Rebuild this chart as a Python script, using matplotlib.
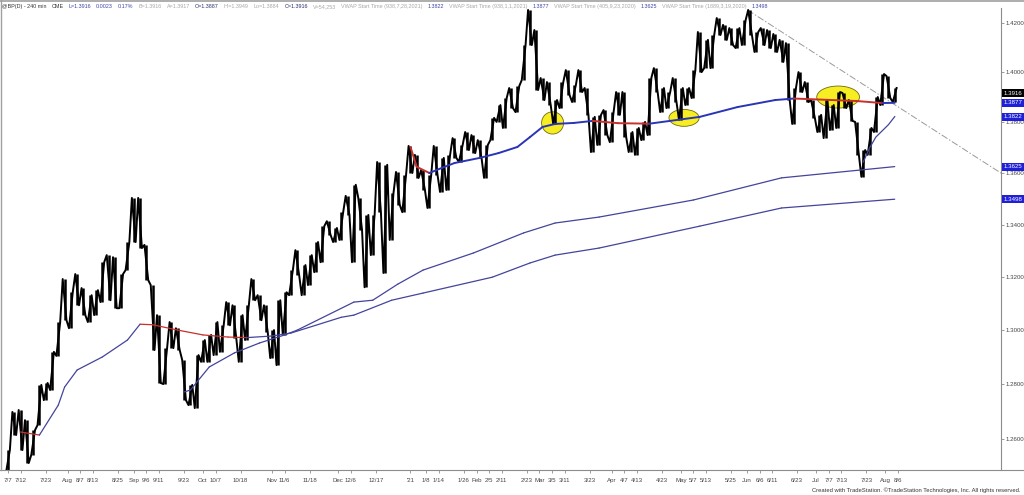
import numpy as np
import matplotlib.pyplot as plt
from matplotlib.patches import Ellipse
from matplotlib.lines import Line2D
from matplotlib.ticker import FixedLocator, FixedFormatter, NullLocator

plt.rcParams['font.family'] = ['Liberation Sans', 'DejaVu Sans']

# bars: one every two business days starting 7/7/2020
start_day = '2020-07-07'
bar_step = 2

bar_high = [
    1.2560, 1.2698, 1.2705, 1.2668, 1.2632, 1.2797, 1.2804, 1.2919, 1.3030, 1.3192,
    1.3142, 1.3211, 1.3158, 1.3131, 1.3150, 1.3256, 1.3283, 1.3275, 1.3211, 1.3333,
    1.3503, 1.3503, 1.3322, 1.3169, 1.3056, 1.2933, 1.3030, 1.3007, 1.2889, 1.2797,
    1.2907, 1.2963, 1.2982, 1.3030, 1.3018, 1.3105, 1.3093, 1.3056, 1.3093, 1.3192,
    1.3131, 1.3093, 1.3000, 1.3112, 1.3142, 1.3226, 1.3302, 1.3245, 1.3283, 1.3333,
    1.3394, 1.3413, 1.3387, 1.3448, 1.3511, 1.3554, 1.3503, 1.3437, 1.3437, 1.3643,
    1.3632, 1.3522, 1.3604, 1.3593, 1.3706, 1.3671, 1.3612, 1.3593, 1.3706, 1.3659,
    1.3671, 1.3737, 1.3710, 1.3761, 1.3749, 1.3729, 1.3710, 1.3817, 1.3868, 1.3896,
    1.3936, 1.3944, 1.4109, 1.4252, 1.4170, 1.3976, 1.3960, 1.3888, 1.3960, 1.4008,
    1.3948, 1.4008, 1.3936, 1.3821, 1.3829, 1.3848, 1.3840, 1.3920, 1.3920, 1.3761,
    1.3777, 1.3801, 1.3976, 1.4016, 1.3936, 1.3920, 1.3976, 1.3936, 1.3936, 1.4008,
    1.4162, 1.4130, 1.4150, 1.4219, 1.4191, 1.4178, 1.4178, 1.4211, 1.4252, 1.4162,
    1.4178, 1.4170, 1.4154, 1.4130, 1.4117, 1.3936, 1.4000, 1.3960, 1.3888, 1.3829,
    1.3888, 1.3868, 1.3920, 1.3916, 1.3888, 1.3801, 1.3690, 1.3777, 1.3900, 1.3992,
    1.3984, 1.3936,
]
bar_low = [
    1.2481, 1.2614, 1.2560, 1.2513, 1.2542, 1.2650, 1.2741, 1.2778, 1.2904, 1.3037,
    1.3007, 1.3093, 1.3056, 1.3030, 1.3056, 1.3105, 1.3112, 1.3082, 1.3082, 1.3226,
    1.3333, 1.3310, 1.3188, 1.2926, 1.2804, 1.2800, 1.2933, 1.2926, 1.2741, 1.2723,
    1.2712, 1.2882, 1.2882, 1.2907, 1.2919, 1.3018, 1.2970, 1.2882, 1.2963, 1.3112,
    1.3037, 1.2993, 1.2896, 1.2870, 1.2982, 1.3131, 1.3207, 1.3131, 1.3169, 1.3218,
    1.3256, 1.3360, 1.3333, 1.3341, 1.3437, 1.3256, 1.3379, 1.3161, 1.3283, 1.3448,
    1.3215, 1.3341, 1.3476, 1.3448, 1.3600, 1.3581, 1.3534, 1.3464, 1.3593, 1.3526,
    1.3534, 1.3659, 1.3643, 1.3690, 1.3678, 1.3659, 1.3581, 1.3729, 1.3801, 1.3777,
    1.3856, 1.3840, 1.3968, 1.4109, 1.3928, 1.3888, 1.3868, 1.3793, 1.3856, 1.3908,
    1.3880, 1.3920, 1.3829, 1.3682, 1.3710, 1.3749, 1.3721, 1.3829, 1.3741, 1.3682,
    1.3671, 1.3729, 1.3749, 1.3920, 1.3840, 1.3856, 1.3880, 1.3809, 1.3868, 1.3896,
    1.4000, 1.4016, 1.4016, 1.4150, 1.4130, 1.4109, 1.4097, 1.4109, 1.4150, 1.4081,
    1.4109, 1.4097, 1.4081, 1.4041, 1.3888, 1.3793, 1.3920, 1.3880, 1.3817, 1.3761,
    1.3737, 1.3769, 1.3777, 1.3856, 1.3805, 1.3671, 1.3585, 1.3671, 1.3761, 1.3868,
    1.3896, 1.3880,
]

# anchored VWAP lines (bar index, value)
vwap_0319_bar = [2, 5, 8, 9, 11, 15, 19, 21, 23, 27, 31, 35, 38, 42, 45, 53, 55,
                 61, 66, 77, 83, 87, 94, 110, 123, 141]
vwap_0319 = [1.2625, 1.2614, 1.2723, 1.2789, 1.2852, 1.2900, 1.2963, 1.3022, 1.3020,
             1.3000, 1.2982, 1.2974, 1.2972, 1.2978, 1.2989, 1.3048, 1.3056, 1.3112,
             1.3139, 1.3199, 1.3253, 1.3283, 1.3310, 1.3394, 1.3464, 1.3498]

vwap_0923_bar = [28, 29, 32, 36, 40, 44, 46, 55, 58, 62, 66, 74, 82, 87, 94, 109,
                 123, 141]
vwap_0923 = [1.2771, 1.2778, 1.2863, 1.2915, 1.2952, 1.2982, 1.3000, 1.3105, 1.3112,
             1.3173, 1.3226, 1.3291, 1.3368, 1.3406, 1.3429, 1.3495, 1.3581, 1.3625]

vwap_0101_bar = [64, 65, 67, 69, 71, 75, 78, 81, 83, 85, 87, 90, 93, 97, 102, 110,
                 116, 122, 125, 135, 139, 141]
vwap_0101 = [1.3702, 1.3624, 1.3600, 1.3620, 1.3639, 1.3659, 1.3678, 1.3702, 1.3741,
             1.3781, 1.3793, 1.3797, 1.3805, 1.3796, 1.3794, 1.3821, 1.3860, 1.3888,
             1.3894, 1.3884, 1.3876, 1.3877]

vwap_0728_bar = [136, 137, 138, 140, 141]
vwap_0728 = [1.3643, 1.3698, 1.3741, 1.3790, 1.3822]

trend_bar = [117.6, 158.0]
trend_price = [1.4252, 1.3598]

# highlighted zones (bar, price)
zone_bar = [86.6, 107.5, 132.0]
zone_price = [1.3797, 1.3817, 1.3900]

y_ticks = [1.26, 1.28, 1.30, 1.32, 1.34, 1.36, 1.38, 1.40, 1.42]
last_values = [1.3916, 1.3877, 1.3822, 1.3625, 1.3498]

tick_labels = ['7/7', '7/12', '7/23', 'Aug', '8/7', '8/13', '8/25', 'Sep', '9/6', '9/11',
               '9/23', 'Oct', '10/7', '10/18', 'Nov', '11/6', '11/18', 'Dec', '12/6',
               '12/17', "'21", '1/8', '1/14', '1/26', 'Feb', '2/5', '2/11', '2/23', 'Mar',
               '3/5', '3/11', '3/23', 'Apr', '4/7', '4/13', '4/23', 'May', '5/7', '5/13',
               '5/25', 'Jun', '6/6', '6/11', '6/23', 'Jul', '7/7', '7/13', '7/23', 'Aug',
               '8/6']
tick_dates = ['2020-07-07', '2020-07-12', '2020-07-23', '2020-08-03', '2020-08-07',
              '2020-08-13', '2020-08-25', '2020-09-01', '2020-09-06', '2020-09-11',
              '2020-09-23', '2020-10-01', '2020-10-07', '2020-10-18', '2020-11-02',
              '2020-11-06', '2020-11-18', '2020-12-01', '2020-12-06', '2020-12-17',
              '2021-01-01', '2021-01-08', '2021-01-14', '2021-01-26', '2021-02-01',
              '2021-02-05', '2021-02-11', '2021-02-23', '2021-03-01', '2021-03-05',
              '2021-03-11', '2021-03-23', '2021-04-01', '2021-04-07', '2021-04-13',
              '2021-04-23', '2021-05-03', '2021-05-07', '2021-05-13', '2021-05-25',
              '2021-06-01', '2021-06-06', '2021-06-11', '2021-06-23', '2021-07-01',
              '2021-07-07', '2021-07-13', '2021-07-23', '2021-08-02', '2021-08-06']

BLUE = '#2a35b5'
THIN = '#44449c'
RED = '#c8302c'
GREY = '#8c8c8c'

W, H = 1024, 495
fig = plt.figure(figsize=(W / 100, H / 100), dpi=100)
ax = fig.add_axes([0, 25 / H, 1001 / W, 462 / H])
ax.set_yscale('log')
ax.set_xlim(-1.27, 157.9)
ax.set_ylim(1.2488, 1.4260)

x = np.arange(len(bar_high))
ax.vlines(x, bar_low, bar_high, color='black', lw=1.8, zorder=3)

# trace each bar low->high or high->low depending on where the next bar sits
px, py = [], []
for i in range(len(bar_high)):
    nxt = min(i + 1, len(bar_high) - 1)
    up = bar_high[nxt] + bar_low[nxt] >= bar_high[i] + bar_low[i]
    first, second = (bar_low[i], bar_high[i]) if up else (bar_high[i], bar_low[i])
    px += [i - 0.3, i + 0.3]
    py += [first, second]
ax.plot(px, py, color='black', lw=1.4, zorder=3)


def vwap(bars, vals, lw, up_col):
    for i in range(len(vals) - 1):
        col = RED if vals[i + 1] < vals[i] else up_col
        ax.plot(bars[i:i + 2], vals[i:i + 2], color=col, lw=lw, zorder=4,
                solid_capstyle='round')


vwap(vwap_0319_bar, vwap_0319, 0.9, THIN)
vwap(vwap_0923_bar, vwap_0923, 0.9, THIN)
vwap(vwap_0101_bar, vwap_0101, 1.4, BLUE)
ax.plot(vwap_0728_bar, vwap_0728, color=THIN, lw=0.9, zorder=4)

ax.plot(trend_bar, trend_price, color='#9a9a9a', lw=0.7,
        linestyle=(0, (7, 2, 1.5, 2)), zorder=2)

for zb, zp, w, h in zip(zone_bar, zone_price, [3.5, 4.8, 6.8], [0.0088, 0.0067, 0.0088]):
    ax.add_patch(Ellipse((zb, zp), w, h, fc='#f6ee22', ec='#6f6a10', lw=0.6, zorder=2))

# y axis on the right
for s in ['top', 'left', 'bottom']:
    ax.spines[s].set_visible(False)
ax.spines['right'].set_color(GREY)
ax.spines['right'].set_linewidth(0.8)
ax.yaxis.tick_right()
ax.yaxis.set_major_locator(FixedLocator(y_ticks))
ax.yaxis.set_major_formatter(FixedFormatter(['%.4f' % v for v in y_ticks]))
ax.yaxis.set_minor_locator(NullLocator())
ax.tick_params(axis='y', direction='out', length=2, width=0.6, color=GREY,
               labelsize=4.4, labelcolor='#444444', pad=1)

for v, fc in zip(last_values, ['black', '#1f1fd8', '#1f1fd8', '#1f1fd8', '#1f1fd8']):
    ax.text(1.0025, v, '%.4f' % v, transform=ax.get_yaxis_transform(), fontsize=4.4,
            color='white', va='center', ha='left', clip_on=False, zorder=6,
            bbox=dict(boxstyle='square,pad=0.25', fc=fc, ec='none'))

# x axis (business days -> bar index)
tick_pos = [np.busday_count(start_day, d) / bar_step for d in tick_dates]
ax.xaxis.set_major_locator(FixedLocator(tick_pos))
ax.xaxis.set_major_formatter(FixedFormatter(tick_labels))
ax.xaxis.set_minor_locator(NullLocator())
ax.tick_params(axis='x', direction='out', length=2.5, width=0.6, color=GREY,
               labelsize=4.4, labelcolor='#444444', pad=3)

fig.add_artist(Line2D([0, 1], [25 / H, 25 / H], color=GREY, lw=0.8))
fig.add_artist(Line2D([0, 1], [1 - 0.8 / H, 1 - 0.8 / H], color='#a0a0a0', lw=1.2))
fig.add_artist(Line2D([0.6 / W, 0.6 / W], [25 / H, 1], color='#a0a0a0', lw=1.0))

# header line
dark, blue, light, navy = '#333333', '#3b46a8', '#a8a8a8', '#28306e'
parts = [('@BP(D) - 240 min', dark), ('CME', dark), ('L=1.3916', blue), ('0.0023', blue),
         ('0.17%', blue), ('B=1.3916', light), ('A=1.3917', light), ('O=1.3887', navy),
         ('Hi=1.3949', light), ('Lo=1.3884', light), ('C=1.3916', navy),
         ('V=54,253', light), ('VWAP Start Time (938,7,28,2021)', light), ('1.3822', blue),
         ('VWAP Start Time (938,1,1,2021)', light), ('1.3877', blue),
         ('VWAP Start Time (405,9,23,2020)', light), ('1.3625', blue),
         ('VWAP Start Time (1889,3,19,2020)', light), ('1.3498', blue)]
r = fig.canvas.get_renderer()
hx = 2.0
for txt, col in parts:
    t = fig.text(hx / W, 1 - 6.5 / H, txt, color=col, fontsize=3.9, ha='left', va='center')
    hx = t.get_window_extent(renderer=r).x1 + 5

fig.text(1 - 4 / W, 4.5 / H,
         'Created with TradeStation. \u00a9TradeStation Technologies, Inc. All rights reserved.',
         fontsize=4.2, color='#333333', ha='right', va='center')

fig.savefig('out.png', dpi=100)
